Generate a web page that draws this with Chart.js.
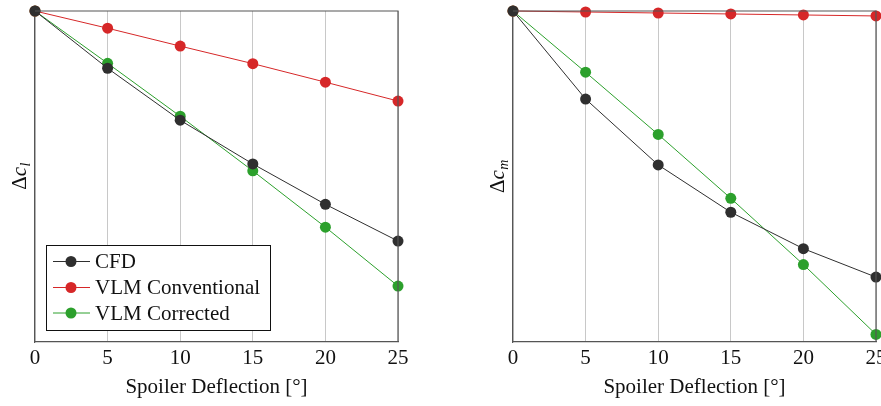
<!DOCTYPE html>
<html><head><meta charset="utf-8">
<script src="https://cdn.jsdelivr.net/npm/chart.js@4/dist/chart.umd.min.js"></script>
<style>
html,body{margin:0;padding:0;background:#fff;overflow:hidden;width:881px;height:406px}
#w1{position:absolute;left:0;top:0;width:440px;height:406px}
#w2{position:absolute;left:440px;top:0;width:460px;height:406px}
</style></head><body>
<div id="w1"><canvas id="c1"></canvas></div>
<div id="w2"><canvas id="c2"></canvas></div>
<script>
const deflection = [0, 5, 10, 15, 20, 25];
const xTicks = [0, 5, 10, 15, 20, 25];
const seriesNames = ['CFD', 'VLM Conventional', 'VLM Corrected'];
const seriesColors = ['#2f2f2f', '#d62728', '#2ca02c'];
const xTitle = 'Spoiler Deflection [°]';
// Δc_l (normalised, no tick labels shown)
const clCFD  = [0, -0.173, -0.330, -0.462, -0.584, -0.695];
const clConv = [0, -0.052, -0.106, -0.159, -0.215, -0.272];
const clCorr = [0, -0.158, -0.318, -0.483, -0.653, -0.831];
// Δc_m (normalised)
const cmCFD  = [0, -0.266, -0.465, -0.608, -0.718, -0.804];
const cmConv = [0, -0.003, -0.006, -0.009, -0.012, -0.015];
const cmCorr = [0, -0.185, -0.373, -0.566, -0.766, -0.977];

const SERIF = '"Liberation Serif", "DejaVu Serif", serif';
const FS = 21;

function mkData(arrs) {
  return {
    datasets: arrs.map((a, i) => ({
      label: seriesNames[i],
      data: deflection.map((x, j) => ({ x: x, y: a[j] })),
      borderColor: seriesColors[i],
      backgroundColor: seriesColors[i],
      pointBackgroundColor: seriesColors[i],
      pointBorderColor: seriesColors[i],
      borderWidth: 1,
      pointRadius: 5.5,
      pointBorderWidth: 0,
      pointHoverRadius: 5.5,
      clip: false,
      tension: 0
    }))
  };
}

function framePlugin(ylabelSub, ylabelX, withLegend) {
  return {
    id: 'frame',
    afterDraw(chart) {
      const ctx = chart.ctx, a = chart.chartArea;
      ctx.save();
      ctx.strokeStyle = '#555';
      ctx.lineWidth = 1.2;
      ctx.beginPath();
      ctx.moveTo(a.left, a.top); ctx.lineTo(a.right, a.top); ctx.lineTo(a.right, a.bottom);
      ctx.stroke();
      ctx.restore();
      // y label: Δ c_sub
      ctx.save();
      const cy = (a.top + a.bottom) / 2;
      ctx.translate(ylabelX, cy);
      ctx.rotate(-Math.PI / 2);
      ctx.fillStyle = '#111';
      ctx.textBaseline = 'alphabetic';
      const f1 = FS + 'px ' + SERIF, f2 = 'italic ' + FS + 'px ' + SERIF, f3 = 'italic 14px ' + SERIF;
      ctx.font = f1; const w1 = ctx.measureText('Δ').width;
      ctx.font = f2; const w2 = ctx.measureText('c').width;
      ctx.font = f3; const w3 = ctx.measureText(ylabelSub).width;
      let x = -(w1 + w2 + w3) / 2;
      ctx.font = f1; ctx.fillText('Δ', x, 0); x += w1;
      ctx.font = f2; ctx.fillText('c', x, 0); x += w2 + 0.5;
      ctx.font = f3; ctx.fillText(ylabelSub, x, 4);
      ctx.restore();
      if (withLegend) {
        ctx.save();
        ctx.fillStyle = '#fff';
        ctx.fillRect(46.5, 245.5, 224, 85);
        ctx.strokeStyle = '#111';
        ctx.lineWidth = 1;
        ctx.strokeRect(46.5, 245.5, 224, 85);
        const rows = [261.5, 287.5, 313];
        chart.data.datasets.forEach((ds, i) => {
          const y = rows[i];
          ctx.strokeStyle = ds.borderColor;
          ctx.lineWidth = 1;
          ctx.beginPath(); ctx.moveTo(53, y); ctx.lineTo(90, y); ctx.stroke();
          ctx.fillStyle = ds.borderColor;
          ctx.beginPath(); ctx.arc(71, y, 5.5, 0, Math.PI * 2); ctx.fill();
          ctx.fillStyle = '#111';
          ctx.font = FS + 'px ' + SERIF;
          ctx.textBaseline = 'middle';
          ctx.fillText(ds.label, 95, y + 1);
        });
        ctx.restore();
      }
    }
  };
}

function mkOptions(yWidth, rightPad) {
  return {
    responsive: true,
    maintainAspectRatio: false,
    animation: false,
    layout: { padding: { top: 11, right: rightPad, bottom: 0, left: 0 } },
    plugins: { legend: { display: false }, tooltip: { enabled: false } },
    scales: {
      x: {
        type: 'linear', min: 0, max: 25,
        afterBuildTicks(s) { s.ticks = xTicks.map(v => ({ value: v })); },
        afterFit(s) { s.height = 64; },
        ticks: { color: '#111', font: { family: SERIF, size: FS }, padding: 4, maxRotation: 0 },
        grid: { color: '#c8c8c8', lineWidth: 1, drawTicks: false },
        border: { display: true, color: '#555', width: 1.2 },
        title: { display: true, text: xTitle, color: '#111', font: { family: SERIF, size: FS }, padding: { top: 0, bottom: 6 } }
      },
      y: {
        type: 'linear', min: -1, max: 0,
        afterFit(s) { s.width = yWidth; },
        ticks: { display: false },
        grid: { display: false },
        border: { display: true, color: '#555', width: 1.2 }
      }
    }
  };
}

new Chart(document.getElementById('c1'), {
  type: 'line',
  data: mkData([clCFD, clConv, clCorr]),
  options: mkOptions(35, 42),
  plugins: [framePlugin('l', 26, true)]
});
new Chart(document.getElementById('c2'), {
  type: 'line',
  data: mkData([cmCFD, cmConv, cmCorr]),
  options: mkOptions(73, 24),
  plugins: [framePlugin('m', 64, false)]
});
</script>
</body></html>
